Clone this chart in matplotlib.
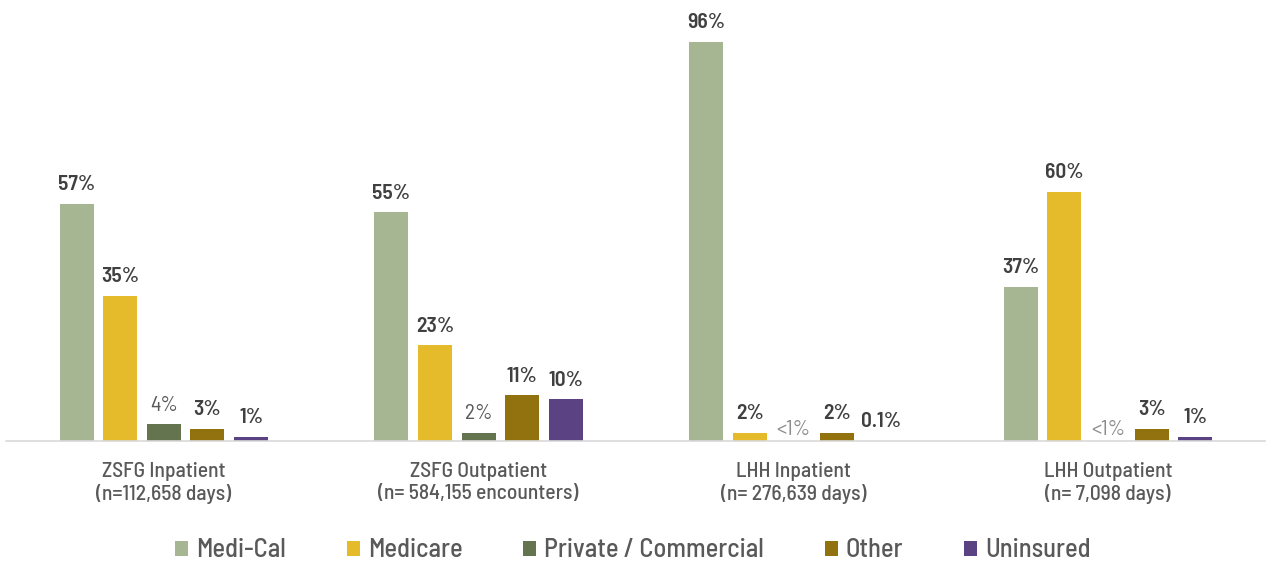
import numpy as np
import matplotlib.pyplot as plt

plt.rcParams['font.family'] = ['Barlow Semi Condensed', 'DejaVu Sans']

groups = ['ZSFG Inpatient\n(n=112,658 days)', 'ZSFG Outpatient\n(n= 584,155 encounters)',
          'LHH Inpatient\n(n= 276,639 days)', 'LHH Outpatient\n(n= 7,098 days)']
series = ['Medi-Cal', 'Medicare', 'Private / Commercial', 'Other', 'Uninsured']
colors = ['#A6B592', '#E6BB2B', '#63744E', '#91720F', '#5B4383']

medical = [57, 55, 96, 37]
medicare = [35, 23, 2, 60]
private = [4, 2, 0.1, 0.1]
other = [3, 11, 2, 3]
uninsured = [1, 10, 0.1, 1]
values = [medical, medicare, private, other, uninsured]

labels = [['57%', '55%', '96%', '37%'],
          ['35%', '23%', '2%', '60%'],
          ['4%', '2%', '<1%', '<1%'],
          ['3%', '11%', '2%', '3%'],
          ['1%', '10%', '0.1%', '1%']]

fig = plt.figure(figsize=(12.66, 5.64), dpi=100)
ax = fig.add_axes([0.0051, 0.2181, 0.9945, 0.7369])

x = np.arange(len(groups))
pitch = 0.1387
width = 0.108

for i, (vals, col, name) in enumerate(zip(values, colors, series)):
    pos = x + (i - 2) * pitch
    ax.bar(pos, vals, width, color=col, label=name, zorder=2)
    for p, v, lab in zip(pos, vals, labels[i]):
        if lab == '<1%':
            ax.annotate(lab, (p, v), xytext=(0, 1), textcoords='offset points',
                        ha='center', va='bottom', fontsize=15.5, color='#8C8C8C')
        elif i == 2:
            ax.annotate(lab, (p, v), xytext=(0, 7), textcoords='offset points',
                        ha='center', va='bottom', fontsize=15.5, color='#595959')
        else:
            ax.annotate(lab, (p, v), xytext=(0, 7), textcoords='offset points',
                        ha='center', va='bottom', fontsize=15.5, color='#404040',
                        fontweight='semibold')

ax.set_xlim(-0.5, 3.5)
ax.set_ylim(0, 100)
ax.set_xticks(x)
ax.set_xticklabels(groups, fontsize=15.5, color='#595959', linespacing=1.2,
                   fontweight='medium')
ax.tick_params(axis='x', length=0, pad=15)
ax.set_yticks([])
for s in ['top', 'right', 'left']:
    ax.spines[s].set_visible(False)
ax.spines['bottom'].set_color('#D9D9D9')
ax.spines['bottom'].set_linewidth(1.2)

leg = fig.legend(loc='center', bbox_to_anchor=(0.5, 0.024), ncol=5, frameon=False,
                 fontsize=19, handlelength=0.5, handleheight=0.5, handletextpad=0.3,
                 columnspacing=2.3, labelcolor='#595959')
for t in leg.get_texts():
    t.set_fontweight('medium')

fig.savefig('out.png', dpi=100)
